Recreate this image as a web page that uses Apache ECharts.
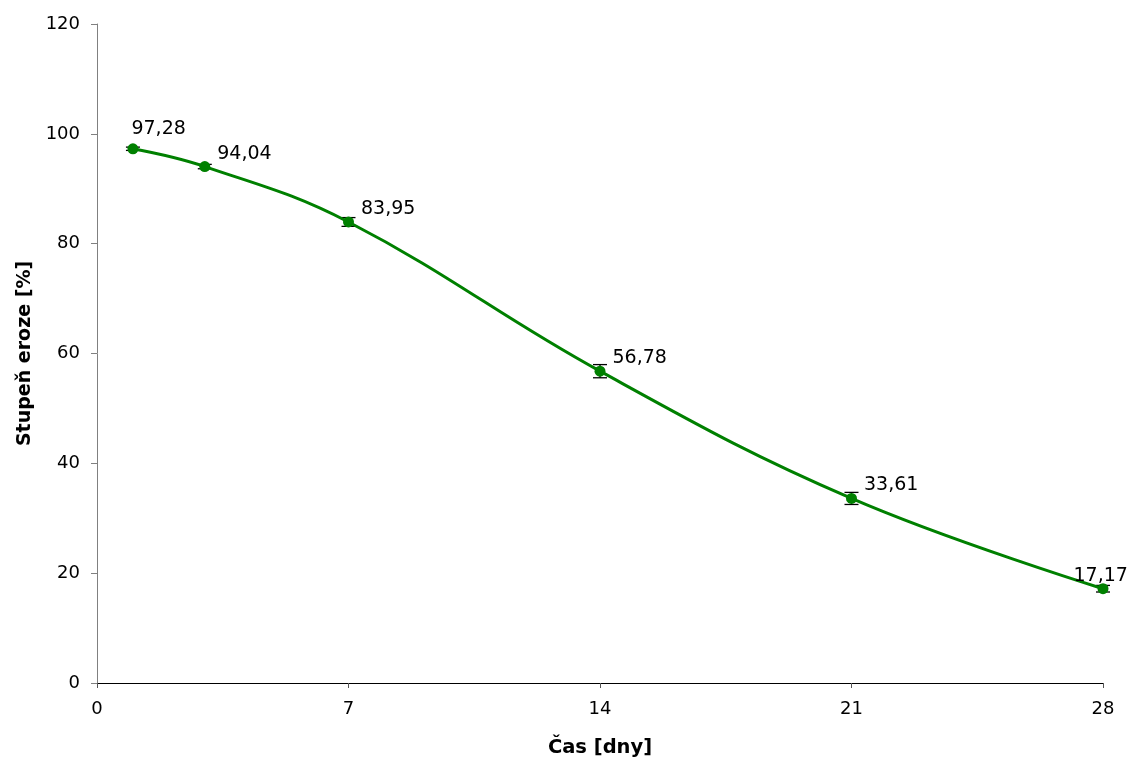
<!DOCTYPE html>
<html>
<head>
<meta charset="utf-8">
<style>
  html, body { margin: 0; padding: 0; background: #fff; }
  #chart { width: 1132px; height: 765px; }
</style>
<script src="https://cdn.jsdelivr.net/npm/echarts@6/dist/echarts.min.js"></script>
</head>
<body>
<div id="chart"></div>
<script>
// Erosion degree over time (days), with standard-deviation error bars
const days = [1, 3, 7, 14, 21, 28];
const erosion = [97.28, 94.04, 83.95, 56.78, 33.61, 17.17];
const errors = [0.3, 0.4, 0.8, 1.2, 1.1, 0.6];
const xTicks = [0, 7, 14, 21, 28];
const yTicks = [0, 20, 40, 60, 80, 100, 120];

const FONT = '"DejaVu Sans", Verdana, sans-serif';

function fmt(v) { return v.toFixed(2).replace('.', ','); }

const lineData = days.map((d, i) => {
  const item = { value: [d, erosion[i]] };
  if (i === 0) item.label = { offset: [-12, -20] };
  if (i === days.length - 1) item.label = { offset: [-40, -13] };
  return item;
});
const errData = days.map((d, i) => [d, erosion[i] - errors[i], erosion[i] + errors[i]]);

const chart = echarts.init(document.getElementById('chart'), null, { renderer: 'canvas' });
chart.setOption({
  animation: false,
  backgroundColor: '#ffffff',
  grid: { left: 97, right: 29, top: 24, bottom: 82, containLabel: false },
  xAxis: {
    type: 'value',
    min: xTicks[0],
    max: xTicks[xTicks.length - 1],
    interval: 7,
    name: 'Čas [dny]',
    nameLocation: 'middle',
    nameGap: 55,
    nameTextStyle: { fontFamily: FONT, fontSize: 19.5, fontWeight: 'bold', color: '#000' },
    axisLine: { show: true, onZero: false, lineStyle: { color: '#000', width: 1 } },
    axisTick: { show: true, length: 5, lineStyle: { color: '#555' } },
    axisLabel: { fontFamily: FONT, fontSize: 18, color: '#000', margin: 17 },
    splitLine: { show: false }
  },
  yAxis: {
    type: 'value',
    min: yTicks[0],
    max: yTicks[yTicks.length - 1],
    interval: 20,
    name: 'Stupeň eroze [%]',
    nameLocation: 'middle',
    nameGap: 62,
    nameTextStyle: { fontFamily: FONT, fontSize: 19, fontWeight: 'bold', color: '#000' },
    axisLine: { show: true, lineStyle: { color: '#808080', width: 1 } },
    axisTick: { show: true, length: 6, lineStyle: { color: '#808080' } },
    axisLabel: { fontFamily: FONT, fontSize: 18, color: '#000', margin: 17 },
    splitLine: { show: false }
  },
  series: [
    {
      type: 'custom',
      name: 'error',
      z: 3,
      data: errData,
      renderItem: function (params, api) {
        const x = api.value(0);
        const lo = api.coord([x, api.value(1)]);
        const hi = api.coord([x, api.value(2)]);
        const hw = 7;
        const style = { stroke: '#000', lineWidth: 1.3 };
        return {
          type: 'group',
          children: [
            { type: 'line', shape: { x1: lo[0], y1: lo[1], x2: hi[0], y2: hi[1] }, style: style },
            { type: 'line', shape: { x1: lo[0] - hw, y1: lo[1], x2: lo[0] + hw, y2: lo[1] }, style: style },
            { type: 'line', shape: { x1: hi[0] - hw, y1: hi[1], x2: hi[0] + hw, y2: hi[1] }, style: style }
          ]
        };
      }
    },
    {
      type: 'line',
      name: 'erosion',
      z: 4,
      data: lineData,
      smooth: 0.4,
      symbol: 'circle',
      symbolSize: 11,
      lineStyle: { color: '#008000', width: 3 },
      itemStyle: { color: '#008000' },
      label: {
        show: true,
        position: 'right',
        distance: 5,
        offset: [2, -13],
        fontFamily: FONT,
        fontSize: 19,
        color: '#000',
        formatter: function (p) { return fmt(p.value[1]); }
      }
    }
  ]
});
</script>
</body>
</html>
